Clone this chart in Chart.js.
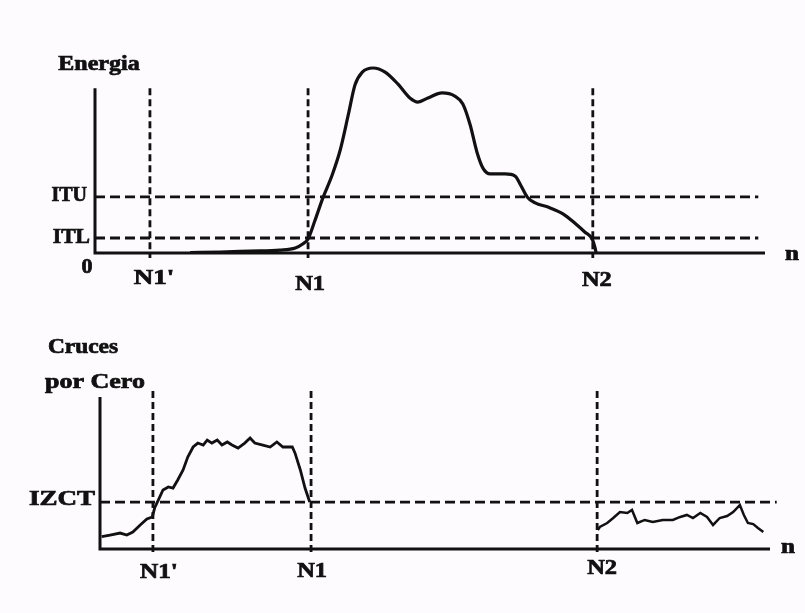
<!DOCTYPE html>
<html>
<head>
<meta charset="utf-8">
<script src="https://cdn.jsdelivr.net/npm/chart.js@4.4.1/dist/chart.umd.min.js"></script>
<style>
  html, body { margin: 0; padding: 0; background: #fdfbfd; }
  #wrap { position: relative; width: 805px; height: 613px; overflow: hidden; }
  .panel { position: absolute; left: 0; width: 805px; }
  #p1 { top: 0; height: 300px; }
  #p2 { top: 300px; height: 313px; }
</style>
</head>
<body>
<div id="wrap">
  <div class="panel" id="p1"><canvas id="c1"></canvas></div>
  <div class="panel" id="p2"><canvas id="c2"></canvas></div>
</div>
<script>
// ---------------- DATA ----------------
// Top panel: short-time energy vs n
const energyN = [14.2, 18.7, 23.1, 27.6, 29.9, 31.0, 31.8, 32.8, 34.0, 35.4, 36.6, 37.8, 38.8, 39.9, 41.5, 43.3, 45.2, 47.0, 48.2, 49.7, 51.8, 53.7, 54.9, 56.0, 57.0, 57.9, 59.0, 61.2, 62.7, 63.6, 64.5, 65.7, 67.6, 69.9, 71.6, 73.1, 74.2, 74.6, 74.8];
const energyValues = [0.3, 0.6, 1.2, 1.8, 3.1, 5.5, 8.6, 19.6, 33.7, 47.9, 63.2, 84.7, 103.1, 111.0, 113.5, 111.0, 103.7, 95.1, 92.6, 95.1, 98.2, 96.3, 91.4, 78.5, 62.0, 52.1, 48.5, 48.5, 47.2, 41.1, 34.4, 30.7, 28.2, 23.9, 18.4, 12.9, 8.6, 3.7, 0];
const energyThresholdNames = ["ITU", "ITL"];
const energyThresholds = [34.4, 9.2];
const energyMarkerNames = ["N1'", "N1", "N2"];
const energyMarkers = [8.2, 31.8, 74.3];

// Bottom panel: zero-crossing rate vs n (two segments)
const zcrN1 = [0.25, 1.5, 3.0, 4.0, 4.9, 6.0, 7.0, 7.8, 8.2, 8.7, 9.4, 10.2, 10.9, 11.6, 12.4, 13.1, 13.9, 14.6, 15.4, 16.0, 16.7, 17.5, 18.2, 19.0, 19.7, 20.6, 21.6, 22.4, 23.1, 24.3, 25.4, 26.4, 27.3, 28.7, 29.1, 29.9, 30.6, 31.3];
const zcrValues1 = [8.1, 9.2, 10.5, 9.2, 11.2, 15.8, 19.7, 21.1, 27.6, 32.2, 38.8, 40.8, 40.1, 45.4, 52.0, 60.5, 67.1, 69.7, 68.4, 71.7, 69.7, 71.7, 68.4, 70.4, 68.4, 66.4, 69.7, 73.0, 69.7, 68.4, 67.1, 70.4, 67.1, 67.1, 63.2, 52.0, 40.1, 30.9];
const zcrN2 = [74.3, 74.6, 75.7, 76.6, 77.6, 78.7, 79.4, 80.2, 81.3, 82.5, 84.0, 85.5, 86.6, 87.6, 88.5, 89.6, 90.6, 91.5, 92.5, 93.6, 94.5, 95.5, 96.1, 96.7, 97.5, 98.2, 99.0];
const zcrValues2 = [12.5, 14.5, 17.1, 20.4, 24.3, 23.7, 25.7, 17.1, 19.1, 17.8, 19.1, 19.1, 21.1, 22.4, 20.4, 23.7, 21.1, 15.8, 20.4, 21.7, 24.3, 28.9, 22.4, 17.1, 16.4, 13.8, 11.2];
const zcrThresholdNames = ["IZCT"];
const zcrThresholds = [30.9];
const zcrMarkerNames = ["N1'", "N1", "N2"];
const zcrMarkers = [7.9, 31.5, 74.2];

// ---------------- DRAWING HELPERS ----------------
const INK = '#111';
const FONT_SIZE = 20;
function drawLabel(ctx, text, x, y, sx, align) {
  ctx.save();
  ctx.translate(x, y);
  ctx.scale(sx, 1);
  ctx.font = 'bold ' + FONT_SIZE + 'px "Liberation Serif", "Times New Roman", serif';
  ctx.textAlign = align || 'center';
  ctx.textBaseline = 'middle';
  ctx.fillStyle = INK;
  ctx.strokeStyle = INK;
  ctx.lineWidth = 0.7;
  ctx.fillText(text, 0, 0);
  ctx.strokeText(text, 0, 0);
  ctx.restore();
}

function panelPlugin(spec) {
  return {
    id: 'panel' + spec.id,
    beforeDatasetsDraw(chart) {
      const ctx = chart.ctx, xs = chart.scales.x, ys = chart.scales.y;
      ctx.save();
      ctx.strokeStyle = INK;
      ctx.lineWidth = 2.8;
      ctx.setLineDash([10, 5]);
      spec.thresholds.forEach(v => {
        const py = ys.getPixelForValue(v);
        ctx.beginPath();
        ctx.moveTo(xs.getPixelForValue(0), py);
        ctx.lineTo(xs.getPixelForValue(spec.hEnd), py);
        ctx.stroke();
      });
      ctx.setLineDash([7, 4]);
      spec.markers.forEach(v => {
        const px = xs.getPixelForValue(v);
        ctx.beginPath();
        ctx.moveTo(px, ys.getPixelForValue(spec.vTop));
        ctx.lineTo(px, ys.getPixelForValue(spec.vBottom));
        ctx.stroke();
      });
      ctx.restore();
    },
    afterDatasetsDraw(chart) {
      const ctx = chart.ctx, xs = chart.scales.x, ys = chart.scales.y;
      const x0 = xs.getPixelForValue(0), y0 = ys.getPixelForValue(0);
      ctx.save();
      ctx.strokeStyle = INK;
      ctx.lineWidth = 3;
      ctx.setLineDash([]);
      ctx.beginPath();
      ctx.moveTo(x0, ys.getPixelForValue(spec.yAxisTop));
      ctx.lineTo(x0, y0);
      ctx.lineTo(xs.getPixelForValue(100), y0);
      ctx.stroke();
      ctx.restore();
      const yTop = ys.getPixelForValue(spec.yAxisTop);
      spec.titles.forEach(t => drawLabel(ctx, t.text, x0 + t.dx, yTop + t.dy, t.sx));
      spec.thresholdNames.forEach((name, i) => {
        const st = spec.thresholdStyle[i];
        drawLabel(ctx, name, x0 - st.gap, ys.getPixelForValue(spec.thresholds[i]) + st.dy, st.sx, 'right');
      });
      spec.markerNames.forEach((name, i) => {
        const st = spec.markerStyle[i];
        drawLabel(ctx, name, xs.getPixelForValue(spec.markers[i]) + st.dx, y0 + st.dy, st.sx);
      });
      if (spec.origin) drawLabel(ctx, spec.origin.text, x0 + spec.origin.dx, y0 + spec.origin.dy, spec.origin.sx);
      drawLabel(ctx, 'n', xs.getPixelForValue(100) + spec.nLabel.dx, y0 + spec.nLabel.dy, 1.25);
    }
  };
}

function baseOptions(pad, ymax) {
  return {
    responsive: true,
    maintainAspectRatio: false,
    animation: false,
    layout: { padding: pad },
    plugins: { legend: { display: false }, tooltip: { enabled: false } },
    scales: {
      x: { type: 'linear', min: 0, max: 100, display: false },
      y: { type: 'linear', min: 0, max: ymax, display: false }
    }
  };
}

// ---------------- TOP PANEL ----------------
new Chart(document.getElementById('c1'), {
  type: 'line',
  data: {
    datasets: [{
      data: energyN.map((n, i) => ({ x: n, y: energyValues[i] })),
      borderColor: INK, borderWidth: 3.2, pointRadius: 0,
      cubicInterpolationMode: 'monotone', fill: false, clip: false
    }]
  },
  options: baseOptions({ left: 95, right: 40, top: 57.4, bottom: 47 }, 120),
  plugins: [panelPlugin({
    id: 1,
    yAxisTop: 101, hEnd: 99, vTop: 101, vBottom: -3,
    thresholds: energyThresholds, thresholdNames: energyThresholdNames,
    thresholdStyle: [{ gap: 8, dy: -1, sx: 1.0 }, { gap: 5, dy: 0, sx: 1.08 }],
    markers: energyMarkers, markerNames: energyMarkerNames,
    markerStyle: [{ dx: 4, dy: 26, sx: 1.35 }, { dx: 2, dy: 32, sx: 1.22 }, { dx: 4, dy: 28, sx: 1.22 }],
    titles: [{ text: 'Energia', dx: 4, dy: -24, sx: 1.2 }],
    origin: { text: '0', dx: -8, dy: 15, sx: 1.1 },
    nLabel: { dx: 27, dy: 2 }
  })]
});

// ---------------- BOTTOM PANEL ----------------
new Chart(document.getElementById('c2'), {
  type: 'line',
  data: {
    datasets: [
      {
        data: zcrN1.map((n, i) => ({ x: n, y: zcrValues1[i] })),
        borderColor: INK, borderWidth: 2.8, pointRadius: 0, tension: 0, fill: false, clip: false
      },
      {
        data: zcrN2.map((n, i) => ({ x: n, y: zcrValues2[i] })),
        borderColor: INK, borderWidth: 2.5, pointRadius: 0, tension: 0, fill: false, clip: false
      }
    ]
  },
  options: baseOptions({ left: 100, right: 35, top: 89.4, bottom: 64 }, 105),
  plugins: [panelPlugin({
    id: 2,
    yAxisTop: 100, hEnd: 101, vTop: 104, vBottom: -3,
    thresholds: zcrThresholds, thresholdNames: zcrThresholdNames,
    thresholdStyle: [{ gap: 5, dy: -2, sx: 1.35 }],
    markers: zcrMarkers, markerNames: zcrMarkerNames,
    markerStyle: [{ dx: 6, dy: 24, sx: 1.26 }, { dx: 1, dy: 23, sx: 1.22 }, { dx: 5, dy: 20, sx: 1.22 }],
    titles: [
      { text: 'Cruces', dx: -17, dy: -49, sx: 1.17 },
      { text: 'por Cero', dx: -5, dy: -14, sx: 1.3 }
    ],
    origin: null,
    nLabel: { dx: 18, dy: -1 }
  })]
});
</script>
</body>
</html>
